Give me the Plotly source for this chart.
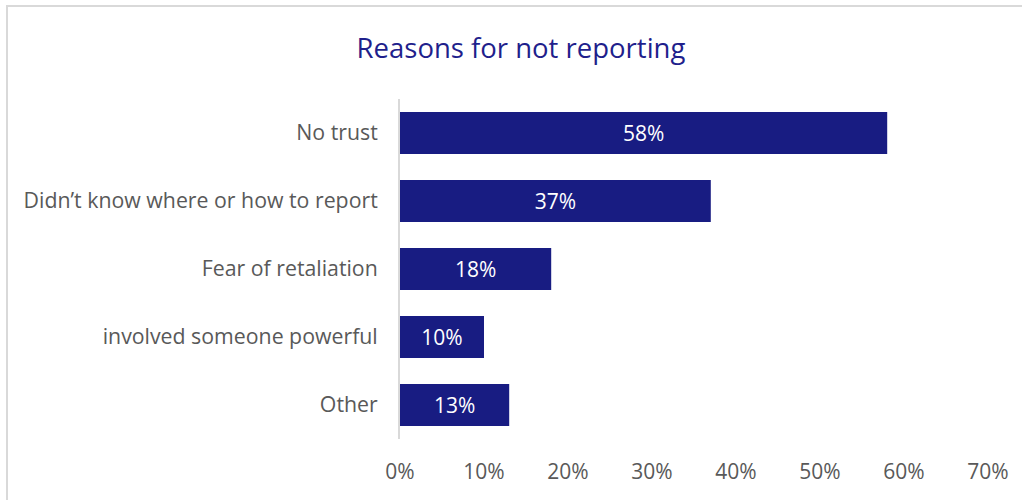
import plotly.graph_objects as go

# Survey results: reasons respondents gave for not reporting
categories = [
    "No trust",
    "Didn\u2019t know where or how to report",
    "Fear of retaliation",
    "involved someone powerful",
    "Other",
]
shares = [58, 37, 18, 10, 13]
tick_values = [0, 10, 20, 30, 40, 50, 60, 70]
tick_labels = ["0%", "10%", "20%", "30%", "40%", "50%", "60%", "70%"]

BAR_COLOR = "#181C82"
TEXT_GRAY = "#595959"
FONT = "Open Sans"

W, H = 1022, 500
L, R, T, B = 400, 34, 99, 61

fig = go.Figure(
    go.Bar(
        x=shares,
        y=categories,
        orientation="h",
        marker=dict(color=BAR_COLOR, line=dict(width=0)),
        text=[f"{v}%" for v in shares],
        textposition="inside",
        insidetextanchor="middle",
        textfont=dict(color="white", size=21, family=FONT),
        cliponaxis=False,
    )
)

# light frame around the whole chart area
pw, ph = W - L - R, H - T - B
fig.add_shape(
    type="rect",
    xref="paper", yref="paper",
    x0=(7 - L) / pw, x1=(1040 - L) / pw,
    y0=-(520 - (H - B)) / ph,
    y1=(H - 6 - B) / ph,
    line=dict(color="#D9D9D9", width=2),
    fillcolor="rgba(0,0,0,0)",
    layer="below",
)

fig.update_layout(
    width=W,
    height=H,
    margin=dict(l=L, r=R, t=T, b=B),
    paper_bgcolor="white",
    plot_bgcolor="white",
    bargap=0.38,
    showlegend=False,
    title=dict(
        text="Reasons for not reporting",
        x=521 / W,
        xanchor="center",
        y=1 - 48 / H,
        yanchor="middle",
        font=dict(family=FONT, size=27.5, color="#1F1F8C"),
    ),
    font=dict(family=FONT, color=TEXT_GRAY),
)

fig.update_xaxes(
    range=[0, 70],
    tickvals=tick_values,
    ticktext=tick_labels,
    showgrid=False,
    zeroline=False,
    showline=False,
    ticks="",
    ticklabelstandoff=18,
    tickfont=dict(family=FONT, size=21, color=TEXT_GRAY),
)

fig.update_yaxes(
    categoryorder="array",
    categoryarray=categories,
    autorange="reversed",
    showgrid=False,
    zeroline=False,
    showline=True,
    linecolor="#D9D9D9",
    linewidth=2,
    ticks="",
    ticklabelstandoff=16,
    tickfont=dict(family=FONT, size=21.3, color=TEXT_GRAY),
)

fig.write_html("out.html")
